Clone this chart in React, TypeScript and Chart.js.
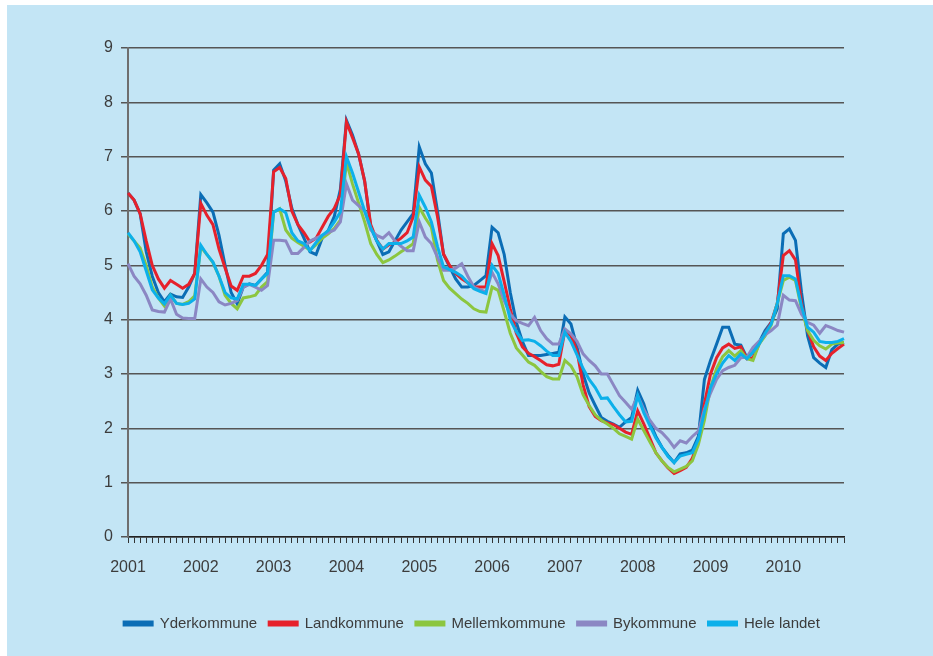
import React, { useEffect, useRef } from 'react';
import { Chart, registerables } from 'chart.js';

Chart.register(...registerables);

// Year labels shown on the x-axis (monthly data Jan 2001 – Nov 2010)
const yearLabels = ['2001', '2002', '2003', '2004', '2005', '2006', '2007', '2008', '2009', '2010'];
const monthCount = 119;

const seriesNames = ['Yderkommune', 'Landkommune', 'Mellemkommune', 'Bykommune', 'Hele landet'];
const seriesColors = ['#0b6db5', '#e6212b', '#8cc63f', '#8b87c3', '#0cb0ea'];

const yderkommune = [
  6.33, 6.2, 5.95, 5.25, 4.8, 4.5, 4.33, 4.47, 4.42, 4.41, 4.6, 4.85,
  6.3, 6.15, 5.98, 5.55, 5.0, 4.5, 4.29, 4.6, 4.66, 4.63, 4.75, 4.87,
  6.75, 6.87, 6.55, 6.05, 5.75, 5.5, 5.25, 5.2, 5.5, 5.64, 5.9, 6.4,
  7.67, 7.4, 7.05, 6.55, 5.7, 5.45, 5.2, 5.25, 5.45, 5.65, 5.8, 5.95,
  7.18, 6.87, 6.7, 6.0, 5.2, 4.97, 4.75, 4.6, 4.6, 4.63, 4.72, 4.81,
  5.7, 5.6, 5.2, 4.5, 3.95, 3.6, 3.34, 3.34, 3.34, 3.36, 3.38, 3.4,
  4.05, 3.92, 3.5, 3.0, 2.65, 2.42, 2.2, 2.13, 2.08, 2.02, 2.12, 2.2,
  2.7, 2.45, 2.1, 1.85, 1.65, 1.5, 1.37, 1.53, 1.55, 1.6, 1.85, 2.9,
  3.25, 3.55, 3.86, 3.86, 3.55, 3.53, 3.3, 3.4, 3.58, 3.8, 3.95, 4.2,
  5.58, 5.67, 5.46, 4.5, 3.7, 3.3, 3.2, 3.12, 3.45, 3.55, 3.58,
];

const landkommune = [
  6.33, 6.2, 5.95, 5.45, 5.0, 4.75, 4.58, 4.72, 4.65, 4.58, 4.65, 4.85,
  6.14, 5.92, 5.75, 5.3, 4.95, 4.62, 4.54, 4.8, 4.8, 4.85, 5.0, 5.2,
  6.72, 6.8, 6.6, 6.0, 5.75, 5.6, 5.43, 5.5, 5.7, 5.9, 6.05, 6.3,
  7.64, 7.35, 7.05, 6.55, 5.75, 5.46, 5.3, 5.38, 5.42, 5.5, 5.6, 5.89,
  6.81, 6.57, 6.45, 5.9, 5.21, 5.0, 4.85, 4.75, 4.68, 4.6, 4.6, 4.6,
  5.4, 5.18, 4.7, 4.2, 3.75, 3.5, 3.38, 3.32, 3.25, 3.17, 3.15, 3.18,
  3.8, 3.7, 3.42, 2.8, 2.4, 2.22, 2.14, 2.1, 2.07, 2.0, 1.93, 1.89,
  2.32, 2.08, 1.82, 1.55, 1.4, 1.27, 1.17, 1.22, 1.28, 1.45, 1.75, 2.45,
  3.0, 3.3, 3.48, 3.55, 3.47, 3.5, 3.28, 3.3, 3.55, 3.75, 3.95, 4.3,
  5.18, 5.27, 5.1, 4.3, 3.8, 3.5, 3.33, 3.25, 3.38, 3.47, 3.55,
];

const mellemkommune = [
  5.58, 5.45, 5.32, 5.0, 4.6, 4.4, 4.25, 4.45, 4.3, 4.28, 4.33, 4.44,
  5.34, 5.2, 5.05, 4.8, 4.45, 4.3, 4.2, 4.4, 4.42, 4.45, 4.6, 4.7,
  5.98, 6.04, 5.65, 5.5, 5.42, 5.35, 5.28, 5.38, 5.5, 5.58, 5.68, 5.83,
  6.9, 6.5, 6.15, 5.8, 5.4, 5.2, 5.05, 5.1, 5.17, 5.25, 5.32, 5.4,
  6.07, 5.87, 5.7, 5.1, 4.72, 4.58, 4.48, 4.38, 4.3, 4.2, 4.15, 4.14,
  4.6, 4.54, 4.15, 3.75, 3.48, 3.35, 3.22, 3.16, 3.05, 2.95, 2.91, 2.91,
  3.25, 3.15, 2.95, 2.62, 2.42, 2.25, 2.15, 2.08, 2.0, 1.9, 1.85, 1.8,
  2.17, 1.96, 1.75, 1.55, 1.4, 1.28, 1.2, 1.25, 1.3, 1.4, 1.7, 2.15,
  2.75, 3.1, 3.32, 3.43, 3.33, 3.43, 3.28, 3.25, 3.55, 3.7, 3.9, 4.3,
  4.72, 4.78, 4.72, 4.2, 3.8, 3.62, 3.52, 3.46, 3.55, 3.57, 3.58,
];

const bykommune = [
  5.03, 4.8, 4.66, 4.45, 4.18, 4.15, 4.14, 4.38, 4.1, 4.03, 4.02, 4.02,
  4.75, 4.6, 4.5, 4.33, 4.27, 4.3, 4.35, 4.6, 4.65, 4.6, 4.54, 4.63,
  5.46, 5.46, 5.45, 5.22, 5.22, 5.33, 5.45, 5.5, 5.55, 5.6, 5.65, 5.8,
  6.5, 6.2, 6.1, 6.0, 5.65, 5.55, 5.5, 5.6, 5.45, 5.35, 5.27, 5.27,
  5.8, 5.52, 5.4, 5.15, 4.91, 4.91, 4.95, 5.03, 4.8, 4.6, 4.55, 4.51,
  4.87, 4.66, 4.35, 4.1, 3.98, 3.93, 3.89, 4.04, 3.8, 3.65, 3.55, 3.55,
  3.83, 3.74, 3.6, 3.37, 3.25, 3.15, 3.0, 3.0, 2.8, 2.6, 2.48, 2.35,
  2.6, 2.35, 2.15, 2.0, 1.92, 1.8, 1.65, 1.77, 1.73, 1.85, 1.95, 2.35,
  2.65, 2.9, 3.06, 3.12, 3.16, 3.3, 3.31, 3.49, 3.6, 3.72, 3.8, 3.9,
  4.45, 4.36, 4.35, 4.1, 3.95, 3.9, 3.75, 3.89, 3.85, 3.8, 3.77,
];

const heleLandet = [
  5.6, 5.45, 5.25, 4.9, 4.55, 4.4, 4.29, 4.45, 4.3, 4.28, 4.3, 4.38,
  5.37, 5.2, 5.06, 4.8, 4.5, 4.4, 4.38, 4.65, 4.65, 4.63, 4.75, 4.85,
  5.98, 6.04, 5.97, 5.6, 5.45, 5.4, 5.27, 5.42, 5.55, 5.64, 5.8, 5.98,
  7.0, 6.7, 6.35, 6.0, 5.7, 5.45, 5.3, 5.4, 5.4, 5.4, 5.45, 5.52,
  6.29, 6.07, 5.8, 5.35, 4.97, 4.92, 4.87, 4.8, 4.68, 4.57, 4.52, 4.48,
  5.0, 4.85, 4.45, 4.0, 3.78, 3.62, 3.63, 3.6, 3.52, 3.42, 3.34, 3.34,
  3.77, 3.6, 3.35, 3.1, 2.9, 2.75, 2.55, 2.56, 2.4, 2.25, 2.12, 2.13,
  2.6, 2.29, 2.05, 1.82, 1.65, 1.48, 1.37, 1.49, 1.52, 1.55, 1.8, 2.3,
  2.75, 3.0, 3.2, 3.34, 3.25, 3.37, 3.28, 3.4, 3.55, 3.75, 3.92, 4.3,
  4.81, 4.81, 4.75, 4.25, 3.86, 3.77, 3.6, 3.58, 3.58, 3.6, 3.65,
];

const seriesValues = [yderkommune, landkommune, mellemkommune, bykommune, heleLandet];

const FONT = "'Liberation Sans', Arial, sans-serif";
const TEXT_COLOR = '#3c3c3c';
const BG = '#c3e5f5';

export default function App() {
  const canvasRef = useRef<HTMLCanvasElement | null>(null);

  useEffect(() => {
    if (!canvasRef.current) return;
    const labels: string[] = [];
    for (let i = 0; i < monthCount; i++) {
      labels.push(yearLabels[Math.floor(i / 12)] + '-' + String((i % 12) + 1).padStart(2, '0'));
    }
    const chart = new Chart(canvasRef.current, {
      type: 'line',
      data: {
        labels,
        datasets: seriesNames.map((name, k) => ({
          label: name,
          data: seriesValues[k],
          borderColor: seriesColors[k],
          backgroundColor: seriesColors[k],
          borderWidth: 3,
          pointRadius: 0,
          tension: 0,
          fill: false,
          order: 5 - k,
        })),
      },
      options: {
        animation: false,
        responsive: false,
        maintainAspectRatio: false,
        layout: { padding: { left: 4, top: 43, right: 0, bottom: 15 } },
        plugins: {
          tooltip: { enabled: false },
          legend: {
            position: 'bottom',
            labels: {
              boxWidth: 28,
              boxHeight: 3,
              padding: 12,
              color: TEXT_COLOR,
              font: { family: FONT, size: 15 },
              sort: (a: any, b: any) => a.datasetIndex - b.datasetIndex,
            },
          },
        },
        scales: {
          x: {
            type: 'category',
            afterFit: (scale: any) => { scale.height = 67; },
            grid: {
              display: true,
              drawOnChartArea: false,
              drawTicks: true,
              tickLength: 6,
              color: '#333333',
              lineWidth: 1,
            },
            border: { display: true, color: '#222222', width: 1.5 },
            ticks: {
              autoSkip: false,
              maxRotation: 0,
              minRotation: 0,
              padding: 15,
              color: TEXT_COLOR,
              font: { family: FONT, size: 16 },
              callback: (_v: any, index: number) => (index % 12 === 0 ? yearLabels[index / 12] : ''),
            },
          },
          y: {
            min: 0,
            max: 9,
            afterFit: (scale: any) => { scale.width = 117; },
            grid: {
              color: '#555555',
              lineWidth: 1.5,
              tickLength: 7,
              drawTicks: true,
            },
            border: { display: true, color: '#6e6e6e', width: 2 },
            ticks: {
              stepSize: 1,
              padding: 8,
              color: TEXT_COLOR,
              font: { family: FONT, size: 16 },
            },
          },
          yRightSpace: {
            position: 'right',
            min: 0,
            max: 9,
            afterFit: (scale: any) => { scale.width = 89; },
            grid: { display: false, drawTicks: false },
            border: { display: false },
            ticks: { display: false },
          },
        },
      },
    });
    return () => chart.destroy();
  }, []);

  return (
    <div style={{ position: 'fixed', left: 0, top: 0, width: 933, height: 656, background: '#ffffff' }}>
      <div style={{ position: 'absolute', left: 7, top: 5, width: 926, height: 651, background: BG }}>
        <canvas ref={canvasRef} width={926} height={651} style={{ width: 926, height: 651, display: 'block' }} />
      </div>
    </div>
  );
}
